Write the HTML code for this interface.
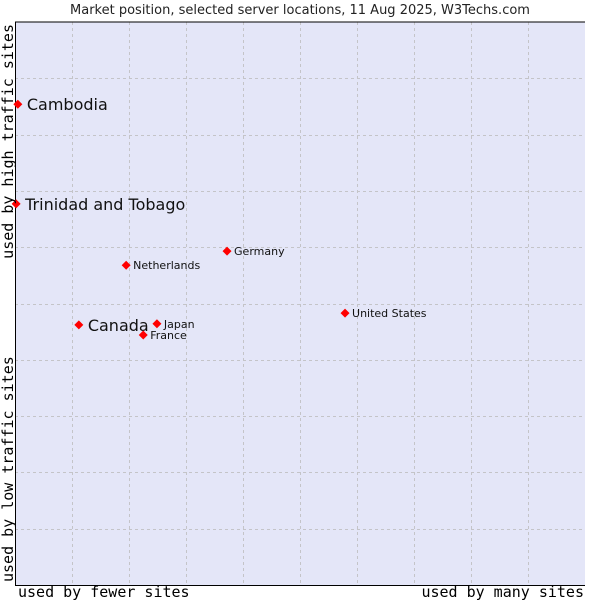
<!DOCTYPE html>
<html><head><meta charset="utf-8"><style>
body{margin:0;background:#fff;width:600px;height:600px;overflow:hidden}
</style></head><body>
<svg id="chart" width="600" height="600" xmlns="http://www.w3.org/2000/svg" font-family="'DejaVu Sans', 'Liberation Sans', sans-serif">
<text x="300" y="14" text-anchor="middle" font-size="13" fill="#222">Market position, selected server locations, 11 Aug 2025, W3Techs.com</text>
<rect x="15" y="22" width="570" height="563" fill="#e4e6f8" stroke="none"/>
<g id="grid"></g>
<line x1="15" y1="22" x2="585" y2="22" stroke="#000"/>
<line x1="15.5" y1="22" x2="15.5" y2="585" stroke="#000"/>
<line x1="15" y1="585.5" x2="585" y2="585.5" stroke="#000"/>
<g id="points"></g>
<text x="18" y="597" font-family="'DejaVu Sans Mono','Liberation Mono',monospace" font-size="15" fill="#000">used by fewer sites</text>
<text x="584" y="597" text-anchor="end" font-family="'DejaVu Sans Mono','Liberation Mono',monospace" font-size="15" fill="#000">used by many sites</text>
<text transform="translate(13,24) rotate(-90)" text-anchor="end" font-family="'DejaVu Sans Mono','Liberation Mono',monospace" font-size="15" fill="#000">used by high traffic sites</text>
<text transform="translate(13,582) rotate(-90)" font-family="'DejaVu Sans Mono','Liberation Mono',monospace" font-size="15" fill="#000">used by low traffic sites</text>
</svg>
<script>
const names = ["Cambodia","Trinidad and Tobago","Canada","Netherlands","Germany","Japan","France","United States"];
const xValues = [0.5,0.2,11.2,19.5,37.2,24.9,22.5,57.9];
const yValues = [85.4,67.7,46.2,56.8,59.3,46.4,44.4,48.3];
const bigLabel = [true,true,true,false,false,false,false,false];
const labelDy = [0,0,0,0,0,0,0,0];
const NS="http://www.w3.org/2000/svg";
const sx=v=>15+v*5.7, sy=v=>585-v*5.63;
const grid=document.getElementById('grid');
for(let i=1;i<10;i++){
  const x=15+i*57;
  const l=document.createElementNS(NS,'line');
  
  
  l.setAttribute('x1',x+.5);l.setAttribute('x2',x+.5);l.setAttribute('y1',22);l.setAttribute('y2',585);
  l.setAttribute('stroke','#c4c4c8');l.setAttribute('stroke-dasharray','3,3');
  grid.appendChild(l);
  const y=22+i*56.3;
  const h=document.createElementNS(NS,'line');
  
  
  h.setAttribute('x1',15);h.setAttribute('x2',585);h.setAttribute('y1',Math.round(y)+.5);h.setAttribute('y2',Math.round(y)+.5);
  h.setAttribute('stroke','#c4c4c8');h.setAttribute('stroke-dasharray','3,3');
  grid.appendChild(h);
}
const pts=document.getElementById('points');
names.forEach((n,i)=>{
  const x=sx(xValues[i]), y=sy(yValues[i]);
  const d=document.createElementNS(NS,'path');
  
  
  d.setAttribute('d',`M${x} ${y-4.5}L${x+4.5} ${y}L${x} ${y+4.5}L${x-4.5} ${y}Z`);
  d.setAttribute('fill','#f00');
  pts.appendChild(d);
  const t=document.createElementNS(NS,'text');
  
  
  const big=bigLabel[i];
  t.setAttribute('x',x+(big?9:7));
  t.setAttribute('y',y+(big?6:4)+labelDy[i]);
  t.setAttribute('font-size',big?16:11);
  t.setAttribute('fill','#111');
  t.textContent=n;
  pts.appendChild(t);
});
</script>
</body></html>
